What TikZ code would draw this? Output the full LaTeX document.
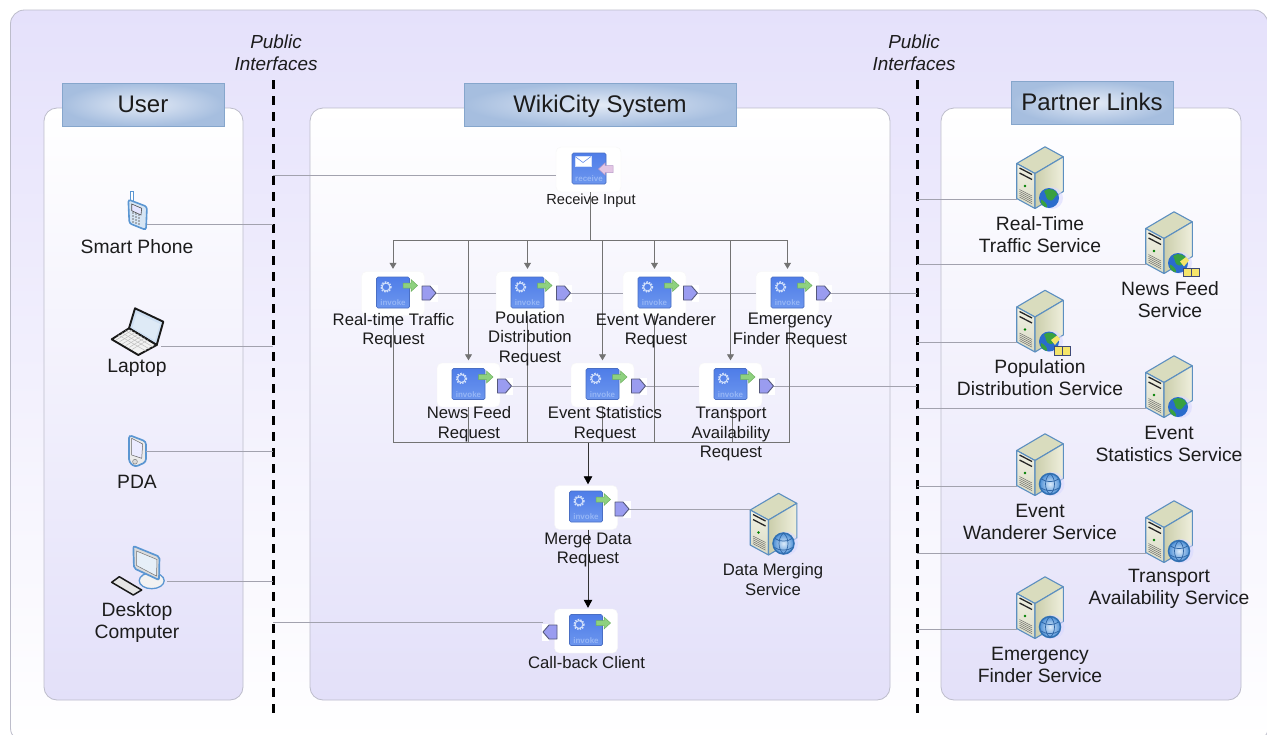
\documentclass[tikz,border=0pt]{standalone}
\usepackage{fontspec}
\setmainfont{Liberation Sans}
\usetikzlibrary{arrows.meta}
\definecolor{lav}{HTML}{E5E1FB}
\definecolor{panelbot}{HTML}{E3E0F9}
\definecolor{edgegray}{HTML}{BDBDCB}
\definecolor{linkgray}{HTML}{A2A2AE}
\definecolor{ink}{HTML}{1C1C1C}
\definecolor{srvblue}{HTML}{5C8FC0}
\definecolor{devblue}{HTML}{5B96D2}
\definecolor{titleout}{HTML}{A6BEDF}
\definecolor{titlein}{HTML}{E3EAF6}
\definecolor{titleedge}{HTML}{86A6CC}
\definecolor{actedge}{HTML}{4A6FC4}
\definecolor{acttop}{HTML}{4F7DE8}
\definecolor{actbot}{HTML}{6C96EE}
\definecolor{acttext}{HTML}{96B6F6}
\definecolor{gearcol}{HTML}{D2E0FB}
\definecolor{greenfill}{HTML}{8ED17F}
\definecolor{greenedge}{HTML}{6DB05F}
\definecolor{pinkfill}{HTML}{E3C6E4}
\definecolor{pinkedge}{HTML}{B79AC8}
\definecolor{portfill}{HTML}{9A9CF0}
\definecolor{portedge}{HTML}{55587C}
\definecolor{srvtop}{HTML}{D9DCBE}
\definecolor{srvfrontA}{HTML}{F1F1E3}
\definecolor{srvfrontB}{HTML}{DADBC6}
\definecolor{srvsideA}{HTML}{CBCEAB}
\definecolor{srvsideB}{HTML}{EFEFDD}
\definecolor{ocean}{HTML}{2A6CCC}
\definecolor{land}{HTML}{38A040}
\definecolor{wireedge}{HTML}{3272B4}
\definecolor{wirein}{HTML}{DCEBFA}
\definecolor{wireout}{HTML}{4C8FD6}
\definecolor{wireline}{HTML}{2F66A6}
\definecolor{folderfill}{HTML}{F5E56A}
\definecolor{folderedge}{HTML}{3E4A78}
\tikzset{
  panelbox/.style={rounded corners=13pt,draw=edgegray,line width=.8pt,top color=white,middle color=white!65!panelbot,bottom color=panelbot},
  titlebox/.style={rectangle,draw=titleedge,line width=.7pt,inner color=titlein,outer color=titleout,minimum height=43pt,text=ink,text height=18pt,text depth=3pt,font=\fontsize{24}{28}\selectfont},
  backing/.style={rectangle,rounded corners=5pt,fill=white,draw=black!3,minimum width=63pt,minimum height=44pt,inner sep=0pt},
  portbox/.style={rectangle,minimum width=14pt,minimum height=18pt,inner sep=0pt},
  anchorbox/.style={rectangle,minimum height=0pt,inner sep=0pt},
  lbl/.style={align=center,inner sep=0pt,text=ink,font=\fontsize{16.7}{19.5}\selectfont},
  lblbig/.style={align=center,inner sep=0pt,text=ink,font=\fontsize{19.3}{22}\selectfont},
  pubtext/.style={align=center,inner sep=0pt,text=ink,font=\fontsize{18.9}{22}\selectfont\itshape},
  dashline/.style={line width=3pt,black,dash pattern=on 8.5pt off 7.5pt},
  link/.style={linkgray,line width=.8pt},
  flow/.style={gray!90!black,line width=.8pt},
  flowtip/.style={flow,-{Triangle[length=6pt,width=7pt]},shorten >=2.5pt},
  blacktip/.style={black!80,line width=.8pt,-{Triangle[length=8pt,width=8.5pt,black]},shorten >=1pt},
  invokeglyph/.pic={
    \draw[draw=actedge,line width=.7pt,rounded corners=1.5pt,top color=acttop,bottom color=actbot] (-16.5,-15.5) rectangle (16.5,15.5);
    \draw[gearcol,line width=1.5pt,dash pattern=on 1.5pt off 1.2pt] (-7,-5.5) circle (5);
    \draw[gearcol,line width=1pt] (-7,-5.5) circle (3.9);
    \node[inner sep=0pt,text=acttext,font=\fontsize{8}{9}\bfseries\selectfont] at (0,10.5) {invoke};
    \fill[greenfill,draw=greenedge,line width=.5pt] (10,-9.5) -- (18,-9.5) -- (18,-13) -- (24.5,-7) -- (18,-1) -- (18,-4.5) -- (10,-4.5) -- cycle;
  },
  receiveglyph/.pic={
    \draw[draw=actedge,line width=.7pt,rounded corners=1.5pt,top color=acttop,bottom color=actbot] (-17,-15.5) rectangle (17,15.5);
    \draw[fill=white,draw=gearcol,line width=.4pt] (-14,-12) rectangle (2,-2);
    \draw[acttop,line width=.5pt] (-14,-12) -- (-6,-6) -- (2,-12);
    \node[inner sep=0pt,text=acttext,font=\fontsize{8}{9}\bfseries\selectfont] at (0,10.5) {receive};
    \fill[pinkfill,draw=pinkedge,line width=.5pt] (24,-3) -- (16,-3) -- (16,-5.5) -- (9.5,.5) -- (16,6.5) -- (16,4) -- (24,4) -- cycle;
  },
  portright/.pic={
    \fill[white] (8,-8.5) -- (15.5,-8.5) -- (15.5,8.5) -- (8,8.5) -- cycle;
    \draw[fill=portfill,draw=portedge,line width=.9pt,line join=round] (0,-7) -- (8,-7) -- (14,0) -- (8,7) -- (0,7) -- cycle;
  },
  portleft/.pic={
    \fill[white] (-8,-8.5) -- (-15.5,-8.5) -- (-15.5,8.5) -- (-8,8.5) -- cycle;
    \draw[fill=portfill,draw=portedge,line width=.9pt,line join=round] (0,-7) -- (-8,-7) -- (-14,0) -- (-8,7) -- (0,7) -- cycle;
  },
  serverglyph/.pic={
    \begin{scope}[srvblue,line width=1.1pt,line join=round]
    \draw[fill=srvtop] (-23.3,-14) -- (5,-30.7) -- (23.3,-20.7) -- (-5,-4) -- cycle;
    \draw[top color=srvfrontA,bottom color=srvfrontB] (-23.3,-14) -- (-5,-4) -- (-5,31) -- (-23.3,21) -- cycle;
    \draw[left color=srvsideA,right color=srvsideB] (-5,-4) -- (23.3,-20.7) -- (23.3,14) -- (-5,31) -- cycle;
    \end{scope}
    \draw[black!85,line width=1.3pt] (-20.5,-9.5) -- (-8,-3);
    \draw[black!85,line width=1.3pt] (-20.5,-4.5) -- (-8,2);
    \fill[green!50!black] (-15,8.5) circle (1.4);
    \foreach \k in {0,1.9,3.8,5.7,7.6}
      \draw[black!60,line width=.45pt] (-20.5,12+\k) -- (-8,18.5+\k);
  },
  colorglobe/.pic={
    \fill[blue!15!white,opacity=.6] (12,20.5) circle (11);
    \fill[ocean] (9,20.5) circle (10);
    \fill[land] (4,13.5) .. controls (9,9.5) and (16,12) .. (17.5,17) .. controls (14,19.5) and (13,24) .. (10,23) .. controls (5,22) and (7,17.5) .. (4,13.5) -- cycle;
    \fill[land] (1,22) .. controls (4,23) and (8,27) .. (7,30) .. controls (3,29) and (0,26) .. (1,22) -- cycle;
  },
  wireglobe/.pic={
    \fill[blue!15!white,opacity=.6] (12.5,19.5) circle (12);
    \draw[wireedge,line width=1.5pt,inner color=wirein,outer color=wireout] (10,19.5) circle (10.5);
    \draw[wireline,line width=.7pt] (10,9) .. controls (4,14) and (4,25) .. (10,30);
    \draw[wireline,line width=.7pt] (10,9) .. controls (16,14) and (16,25) .. (10,30);
    \draw[wireline,line width=.7pt] (1.5,14.5) .. controls (6,18) and (14,18) .. (18.5,14.5);
    \draw[wireline,line width=.7pt] (1,23.5) .. controls (6,27) and (14,27) .. (19,23.5);
  },
  folderglyph/.pic={
    \fill[folderfill] (11,19) -- (17,14.5) -- (20,18) -- (15,24) -- cycle;
    \draw[fill=folderfill,draw=folderedge,line width=1pt] (14.5,25.5) rectangle (30,34);
    \draw[folderedge,line width=1pt] (22.2,25.5) -- (22.2,34);
  },
}
\newcommand{\invokeicon}[4]{%
  \node[backing,xshift=0pt,yshift=-1pt] (#1B) at (#2,#3) {};
  \pic at (#2,#3) {invokeglyph};
  \node[portbox,xshift=36pt,yshift=-#4pt] (#1P) at (#2,#3) {};
  \pic[xshift=29pt,yshift=-#4pt] at (#2,#3) {portright};
}
\newcommand{\servericon}[4]{%
  \node[anchorbox,minimum width=46.6pt,yshift=-21.5pt] (#1S) at (#2,#3) {};
  \pic at (#2,#3) {serverglyph};
  \pic at (#2,#3) {#4};
}
\begin{document}
\begin{tikzpicture}[x=1pt,y=-1pt]
\useasboundingbox (0,0) rectangle (1267,734);
\clip (0,0) rectangle (1267,734);
\fill[white] (0,0) rectangle (1267,734);
% outer frame and panels
\draw[rounded corners=14pt,draw=edgegray,line width=.8pt,top color=lav,bottom color=white] (10.5,10) rectangle (1268,742);
\draw[panelbox] (44,108) rectangle (243,700);
\draw[panelbox] (310,108) rectangle (890,700);
\draw[panelbox] (941,108) rectangle (1241,700);
% titles
\node[titlebox,minimum width=162pt] (tUser) at (143,104.5) {User};
\node[titlebox,minimum width=272pt] (tSys) at (600,104.5) {WikiCity System};
\node[titlebox,minimum width=162pt] (tPart) at (1092,102.5) {Partner Links};
% public interface lines
\coordinate (pubLt) at (273,80);
\coordinate (pubLb) at (273,719);
\coordinate (pubRt) at (917,80);
\coordinate (pubRb) at (917,719);
\draw[dashline] (pubLt) -- (pubLb);
\draw[dashline] (pubRt) -- (pubRb);
\node[pubtext] (pubLtxt) at (276,53) {Public\\Interfaces};
\node[pubtext] (pubRtxt) at (914,53) {Public\\Interfaces};
% device anchors
\node[anchorbox,minimum width=19pt] (phone) at (137.5,224) {};
\node[anchorbox,minimum width=50pt] (laptop) at (136,346) {};
\node[anchorbox,minimum width=17pt] (pda) at (137.5,451) {};
\node[anchorbox,minimum width=55pt] (desktop) at (139.5,581.5) {};
% smart phone
\draw[devblue,line width=1pt,fill=white] (130,191.5) rectangle (133,201);
\draw[rounded corners=2.5pt,draw=devblue,line width=1.6pt,fill=devblue!25!white] (128.3,199.5) -- (147,206.7) -- (146,230) -- (129.3,223.3) -- cycle;
\draw[black!70,line width=.6pt,fill=white!90!blue] (131.7,204) -- (141.7,208.3) -- (141,215) -- (131.7,210.7) -- cycle;
\foreach \a in {0,1,2,3}\foreach \b in {0,1,2}
  \fill[black!55] (133+\b*3,213+\a*3+\b) circle (.8);
% laptop
\draw[black!90,line width=1.9pt,line join=round,fill=white!70!devblue] (135,308.3) -- (163.3,321.7) -- (156.7,345) -- (129,328.3) -- cycle;
\fill[white!80!devblue] (137,313) -- (160,324) -- (155,340.5) -- (132.5,327.5) -- cycle;
\draw[black!90,line width=1.9pt,line join=round,fill=black!5] (129,328.3) -- (156.7,345) -- (138.3,355) -- (111.7,339.3) -- cycle;
\foreach \k in {1,2,3}
  \draw[black!25,line width=.5pt] (129-\k*3.6,328.3+\k*2.2) -- (156.7-\k*3.6,345+\k*2);
\foreach \k in {1,...,6}
  \draw[black!25,line width=.5pt] (129+\k*3.2,328.3+\k*1.9) -- (113+\k*3.2,338+\k*1.9);
% pda
\draw[rounded corners=3pt,draw=devblue,line width=1.7pt,fill=black!8] (129,435) -- (146,441.5) -- (146,462) -- (135,467) -- (129,462) -- cycle;
\draw[black!60,line width=.5pt,fill=white!92!blue] (131.7,438.3) -- (142.7,444) -- (141.7,458.3) -- (131.7,455) -- cycle;
\draw[black!50,line width=.5pt,fill=black!15] (135,461.7) circle (2.4);
% desktop
\draw[devblue,line width=1.3pt,fill=white!90!gray] (151.7,580.7) ellipse (12.5 and 8);
\draw[rounded corners=2pt,draw=devblue,line width=1.7pt,fill=black!14] (133.3,546) -- (159.5,556.7) -- (159,580) -- (134,568.3) -- cycle;
\draw[black!55,line width=.5pt,fill=white!85!devblue] (136.5,551) -- (157,559.5) -- (156.5,576) -- (136.5,565.5) -- cycle;
\draw[black!90,line width=1.5pt,line join=round,fill=black!10] (111.7,582.3) -- (119.3,576.7) -- (141.7,590) -- (133.3,595) -- cycle;
% BPEL activities
\node[backing,minimum width=65pt,minimum height=45pt] (rcB) at (588.5,169.5) {};
\pic at (589,168.5) {receiveglyph};
\invokeicon{rt}{393}{292.5}{.5}
\invokeicon{pop}{527.5}{292.5}{.5}
\invokeicon{ew}{654.5}{292.5}{.5}
\invokeicon{ef}{787.5}{292.5}{.5}
\invokeicon{nf}{468.5}{384}{2}
\invokeicon{es}{602.5}{384}{2}
\invokeicon{ta}{730.5}{384}{2}
\invokeicon{mg}{586}{506.5}{2.5}
\node[backing] (cbB) at (586,631) {};
\pic at (586,630) {invokeglyph};
\node[portbox] (cbP) at (550,632) {};
\pic at (557,632) {portleft};
% services
\servericon{s1}{1040}{177.5}{colorglobe}
\servericon{s2}{1169}{242.5}{colorglobe}
\pic at (1169,242.5) {folderglyph};
\servericon{s3}{1040}{321}{colorglobe}
\pic at (1040,321) {folderglyph};
\servericon{s4}{1169}{386.5}{colorglobe}
\servericon{s5}{1040}{464.5}{wireglobe}
\servericon{s6}{1169}{531.5}{wireglobe}
\servericon{s7}{1040}{607.5}{wireglobe}
\servericon{dm}{773.5}{524}{wireglobe}
% links to the public interface, left
\draw[link] (phone.east) -- (phone.east -| pubLt);
\draw[link] (laptop.east) -- (laptop.east -| pubLt);
\draw[link] (pda.east) -- (pda.east -| pubLt);
\draw[link] (desktop.east) -- (desktop.east -| pubLt);
\draw[link] (pubLt |- rcB.west) ++(0,5.5) -- ([yshift=-5.5pt]rcB.west);
\draw[link] (cbP.north west -| pubLt) -- (cbP.north west);
% links to the public interface, right
\foreach \s in {s1,s2,s3,s4,s5,s6,s7}
  \draw[link] (\s S.west) -- (\s S.west -| pubRt);
\draw[link] (efP.east) -- (efP.east -| pubRt);
\draw[link] (taP.east) -- (taP.east -| pubRt);
\draw[link] (mgP.east) -- (mgP.east -| dmS.west);
% port to port
\draw[link] (rtP.east) -- (rtP.east -| popB.west);
\draw[link] (popP.east) -- (popP.east -| ewB.west);
\draw[link] (ewP.east) -- (ewP.east -| efB.west);
\draw[link] (nfP.east) -- (nfP.east -| esB.west);
\draw[link] (esP.east) -- (esP.east -| taB.west);
% fork
\coordinate (busT) at (590.5,240.5);
\coordinate (busB) at (588,442.5);
\draw[flow] (rcB.south -| busT) -- (busT);
\draw[flow] (rtB.north |- busT) -- (efB.north |- busT);
\foreach \n in {rt,pop,ew,ef,nf,es,ta}
  \draw[flowtip] (\n B.north |- busT) -- (\n B.north);
% join
\draw[flow] (rtB.south) |- (busB);
\draw[flow] (popB.south) |- (busB);
\draw[flow] (ewB.south) |- (busB);
\draw[flow] ([xshift=1.5pt]efB.south) |- (busB);
\draw[flow] (nfB.south) |- (busB);
\draw[flow] (esB.south) -- (esB.south |- busB);
\draw[flow] ([xshift=1.5pt]taB.south) -- ([xshift=1.5pt]taB.south |- busB);
\draw[blacktip] (busB) -- (busB |- mgB.north);
\draw[blacktip] (busB |- mgB.south) -- (busB |- cbB.north);
% labels
\node[lbl,font=\fontsize{14.6}{17}\selectfont] (lrc) at (591,200.5) {Receive Input};
\node[lbl] (lrt) at (393.5,330.5) {Real-time Traffic\\Request};
\node[lbl] (lpop) at (530,338.5) {Poulation\\Distribution\\Request};
\node[lbl] (lew) at (656,330.5) {Event Wanderer\\Request};
\node[lbl] (lef) at (790,330.5) {Emergency\\Finder Request};
\node[lbl] (lnf) at (469,424) {News Feed\\Request};
\node[lbl] (les) at (605,424) {Event Statistics\\Request};
\node[lbl] (lta) at (731,434) {Transport\\Availability\\Request};
\node[lbl] (lmg) at (588,550) {Merge Data\\Request};
\node[lbl] (lcb) at (586.5,663) {Call-back Client};
\node[lbl] (ldm) at (773,579.5) {Data Merging\\Service};
\node[lblbig] (d1) at (137,246.5) {Smart Phone};
\node[lblbig] (d2) at (137,367.5) {Laptop};
\node[lblbig] (d3) at (137,482) {PDA};
\node[lblbig] (d4) at (137,623) {Desktop\\Computer};
\node[lblbig] (l1) at (1040,234.5) {Real-Time\\Traffic Service};
\node[lblbig] (l2) at (1170,299.5) {News Feed\\Service};
\node[lblbig] (l3) at (1040,377.5) {Population\\Distribution Service};
\node[lblbig] (l4) at (1169,443.5) {Event\\Statistics Service};
\node[lblbig] (l5) at (1040,521.5) {Event\\Wanderer Service};
\node[lblbig] (l6) at (1169,588.5) {Transport\\Availability Service};
\node[lblbig] (l7) at (1040,664.5) {Emergency\\Finder Service};
\end{tikzpicture}
\end{document}
